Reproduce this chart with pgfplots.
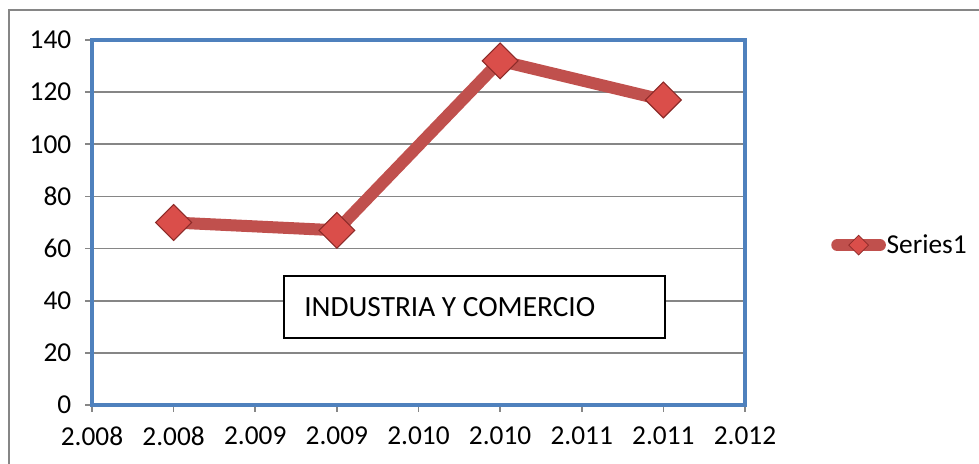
\documentclass[border=0pt]{standalone}
\usepackage{pgfplots}
\pgfplotsset{compat=1.18}
\usepackage{fontspec}
\setmainfont{Carlito}
\definecolor{plotblue}{RGB}{79,129,189}
\definecolor{serred}{RGB}{192,80,77}
\definecolor{markfill}{RGB}{218,78,74}
\definecolor{markdraw}{RGB}{140,42,40}
\definecolor{gridgray}{RGB}{134,134,134}
\begin{document}
\begin{tikzpicture}[x=0.75pt,y=0.75pt]
\useasboundingbox (0,0) rectangle (979,464);
% outer chart frame (only top and left visible)
\draw[gridgray, line width=1.5pt] (9,0) -- (9,454) -- (979,454);
\begin{axis}[
  at={(69pt,44.25pt)},
  anchor=south west,
  scale only axis,
  width=489.75pt,
  height=273.75pt,
  xmin=0, xmax=8,
  ymin=0, ymax=140,
  xtick={0,...,8},
  xticklabels={2.008,2.008,2.009,2.009,2.010,2.010,2.011,2.011,2.012},
  ytick={0,20,...,140},
  ymajorgrids,
  grid style={gridgray, line width=1.2pt},
  axis line style={plotblue, line width=3pt},
  tick align=outside,
  tick pos=left,
  major tick length=5pt,
  major tick style={gridgray, line width=1.2pt},
  /pgf/number format/assume math mode=true,
  tick label style={font=\fontsize{20.5}{24}\selectfont},
  xticklabel style={yshift=-8pt},
  yticklabel style={xshift=-7pt},
  legend style={
    at={(1.1317,0.438)},
    anchor=west,
    draw=none,
    fill=none,
    inner sep=0pt,
    nodes={inner sep=0.5pt},
    font=\fontsize{20.5}{24}\selectfont,
    legend cell align=left
  },
  legend image code/.code={
    \draw[#1, mark repeat=2, mark phase=2,
          mark options={rotate=45, scale=0.55, fill=markfill, draw=markdraw, line width=0.6pt}]
      plot coordinates {(0pt,0pt) (16pt,0pt) (32pt,0pt)};
  }
]
\addplot[
  serred,
  line width=9pt,
  line cap=round,
  mark=square*,
  mark size=9.5pt,
  mark options={rotate=45, fill=markfill, draw=markdraw, line width=0.8pt}
] coordinates {(1,70) (3,67) (5,132) (7,117)};
\addlegendentry{Series1}
\end{axis}
\draw[black, line width=1pt, fill=white] (284,126) rectangle (665,188);
\node[anchor=west, inner sep=0pt, font=\fontsize{22}{26}\selectfont] at (304,157) {INDUSTRIA Y COMERCIO};
\end{tikzpicture}
\end{document}
